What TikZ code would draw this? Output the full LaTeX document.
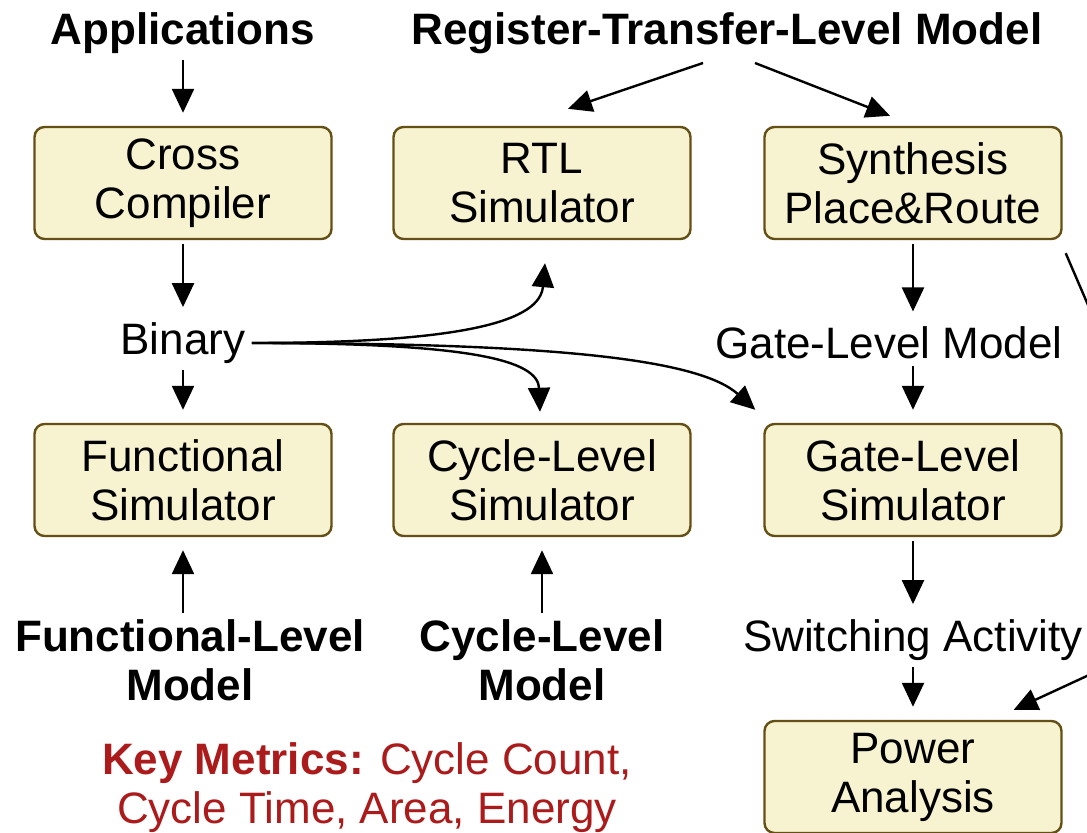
\documentclass[tikz,border=0pt]{standalone}
\usepackage{fontspec}
\setmainfont{Liberation Sans}
\usetikzlibrary{positioning,arrows.meta,calc}
\definecolor{boxfill}{RGB}{247,243,208}
\definecolor{boxline}{RGB}{100,80,20}
\definecolor{metred}{RGB}{172,27,27}
\newcommand{\lblsize}{\fontsize{22}{24.5}\selectfont}

\begin{document}
\begin{tikzpicture}[x=0.5pt, y=-0.5pt, >={Triangle[length=12pt,width=11pt]},
   blk/.style={draw=boxline, fill=boxfill, rounded corners=5pt, line width=1.2pt,
               align=center, minimum width=148.5pt, minimum height=56pt,
               inner sep=2pt, font=\lblsize},
   lbl/.style={align=center, inner sep=1pt, font=\lblsize},
   hdr/.style={lbl, font=\lblsize\bfseries},
   arr/.style={->, line width=1.2pt, shorten <=2pt, shorten >=6.5pt}]
  \useasboundingbox (0,0) rectangle (1087,833);
  \clip (0,0) rectangle (1087,833);
  % boxes
  \node[blk] (cc)   at (183,183) {Cross\\Compiler};
  \node[blk] (rtl)  at (542,183) {RTL\\Simulator};
  \node[blk] (syn)  at (913,183) {Synthesis\\Place\&Route};
  \node[blk] (fsim) at (183,480) {Functional\\Simulator};
  \node[blk] (csim) at (542,480) {Cycle-Level\\Simulator};
  \node[blk] (gsim) at (913,480) {Gate-Level\\Simulator};
  \node[blk] (pow)  at (913,777) {Power\\Analysis};
  % labels
  \node[hdr] (apps) at (183,33) {Applications};
  \node[hdr] (rtlm) at (727,33) {Register-Transfer-Level Model};
  \node[lbl] (bin)  at (183,343) {Binary};
  \node[lbl] (glm)  at (889,343) {Gate-Level Model};
  \node[hdr] (flm)  at (190,660) {Functional-Level\\Model};
  \node[hdr] (clm)  at (542,660) {Cycle-Level\\Model};
  \node[lbl] (swa)  at (913,640) {Switching Activity};
  \node[lbl, text=metred] (key) at (367,788)
       {\textbf{Key Metrics:} Cycle Count,\\Cycle Time, Area, Energy};
  % straight arrows
  \draw[arr] (apps) -- (cc);
  \draw[arr] (cc) -- (bin);
  \draw[arr] (bin) -- (fsim);
  \draw[arr] (fsim |- flm.north) -- (fsim);
  \draw[arr] (clm) -- (csim);
  \draw[arr] (syn) -- (syn |- glm.north);
  \draw[arr] (gsim |- glm.south) -- (gsim);
  \draw[arr] (gsim) -- (swa);
  \draw[arr] (swa) -- (pow);
  \draw[arr, shorten <=0pt, shorten >=0pt] ($(rtlm.south)+(-24,7)$) -- ($(rtl.north)+(26,-17)$);
  \draw[arr, shorten <=0pt, shorten >=0pt] ($(rtlm.south)+(28,7)$) -- ($(syn.north)+(-23,-10)$);
  % binary fan-out
  \draw[arr, shorten >=0pt] (bin.east) .. controls (470,343) and (540,320) .. ($(rtl.south)+(3,23)$);
  \draw[arr, shorten >=0pt] (bin.east) .. controls (470,343) and (538,360) .. ($(csim.north)+(-2,-11)$);
  \draw[arr, shorten >=0pt] (bin.east) .. controls (560,343) and (700,360) .. ($(gsim.north west)+(-8,-13)$);
  % netlist to power, runs off the right edge
  \coordinate (bend) at (1221,614);
  \draw[arr, shorten <=0pt, shorten >=0pt] ($(syn.south east)+(3,13)$) -- (bend) -- ($(pow.north east)+(-49,-10)$);
\end{tikzpicture}
\end{document}
